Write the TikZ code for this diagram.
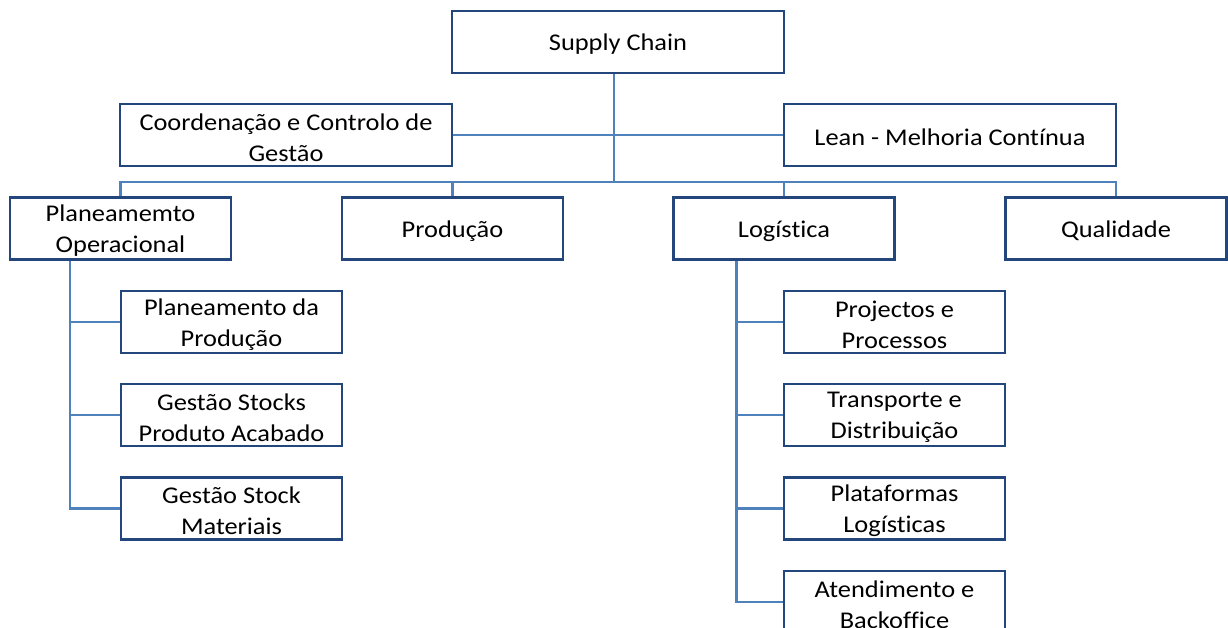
\documentclass[tikz,border=0pt]{standalone}
\usepackage{fontspec}
\setmainfont{Carlito}[FakeStretch=1.1,RawFeature=-liga]
\definecolor{boxblue}{RGB}{35,70,125}
\definecolor{linkblue}{RGB}{79,129,189}
\tikzset{
  unitbox/.style={draw=boxblue, line width=2.2pt, fill=white,
    inner sep=0pt, minimum width=221pt, minimum height=62pt,
    label={[align=center, inner sep=0pt, yshift=-2.5pt,
      font=\fontsize{24}{31}\selectfont]center:{#1}}},
  wideunit/.style={unitbox={#1}, minimum width=332pt},
  link/.style={draw=linkblue, line width=2.4pt}
}
\begin{document}
\begin{tikzpicture}[x=1pt,y=-1pt]
\useasboundingbox (0,0) rectangle (1228,627);
% top level
\node[wideunit={Supply Chain}] (sc) at (618,42) {};
\node[wideunit={Coordenação e Controlo de\\Gestão}] (ccg) at (286,135) {};
\node[wideunit={Lean - Melhoria Contínua}] (lean) at (950,135) {};
% departments
\node[unitbox={Planeamemto\\Operacional}] (po) at (120.5,228.5) {};
\node[unitbox={Produção}] (prod) at (452.5,228.5) {};
\node[unitbox={Logística}] (log) at (784,228.5) {};
\node[unitbox={Qualidade}] (qual) at (1116,228.5) {};
% planning sub-units
\node[unitbox={Planeamento da\\Produção}] (ppr) at (231.5,322) {};
\node[unitbox={Gestão Stocks\\Produto Acabado}] (gspa) at (231.5,415) {};
\node[unitbox={Gestão Stock\\Materiais}] (gsm) at (231.5,508.5) {};
% logistics sub-units
\node[unitbox={Projectos e\\Processos}] (pp) at (894.5,322) {};
\node[unitbox={Transporte e\\Distribuição}] (td) at (894.5,415) {};
\node[unitbox={Plataformas\\Logísticas}] (pl) at (894.5,508.5) {};
\node[unitbox={Atendimento e\\Backoffice}] (ab) at (894.5,602) {};
% connectors
\coordinate (bus) at (0,182);
\coordinate (top) at ([xshift=-4pt]sc.south);
\draw[link] (top) -- (top |- bus);
\draw[link] (ccg.east) -- (lean.west);
\draw[link] (po.north) |- (bus -| qual.north) -- (qual.north);
\draw[link] (prod.north) -- (prod.north |- bus);
\draw[link] (log.north) -- (log.north |- bus);
\coordinate (lv) at ([xshift=61pt]po.south west);
\draw[link] (lv) |- (gsm.west);
\draw[link] (lv |- ppr.west) -- (ppr.west);
\draw[link] (lv |- gspa.west) -- (gspa.west);
\coordinate (rv) at ([xshift=64pt]log.south west);
\draw[link] (rv) |- (ab.west);
\draw[link] (rv |- pp.west) -- (pp.west);
\draw[link] (rv |- td.west) -- (td.west);
\draw[link] (rv |- pl.west) -- (pl.west);
\end{tikzpicture}
\end{document}
